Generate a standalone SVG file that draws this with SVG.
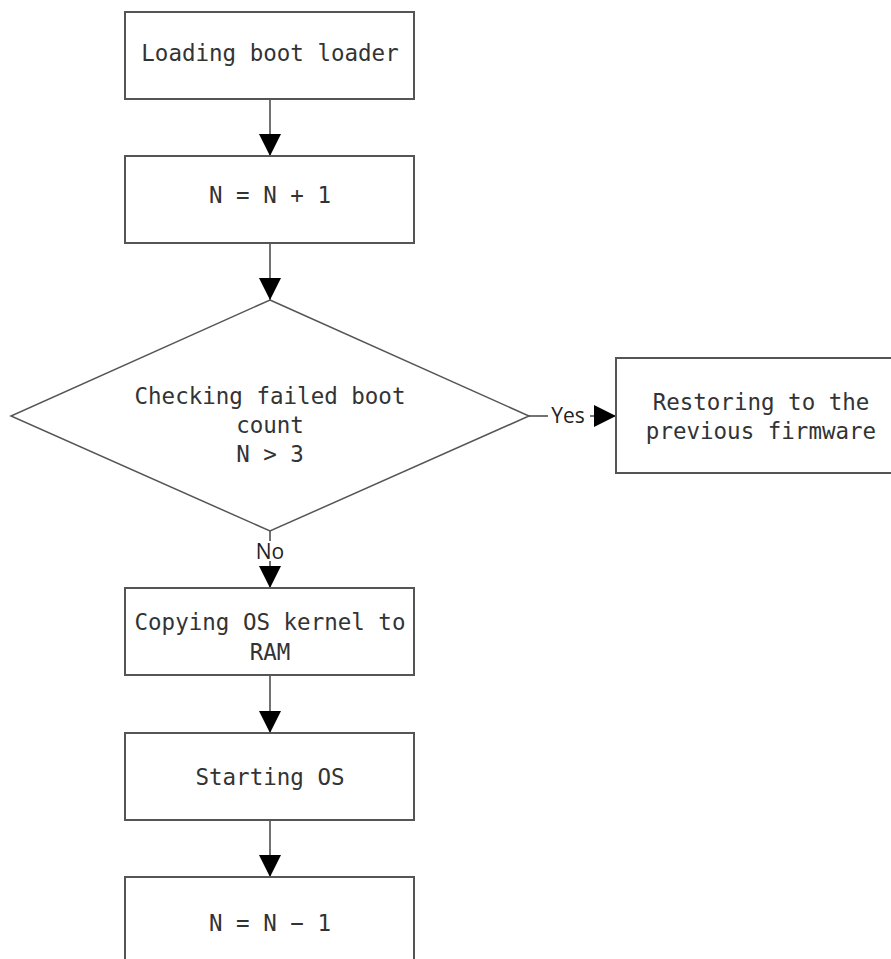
<svg xmlns="http://www.w3.org/2000/svg" width="891" height="959" viewBox="0 0 891 959">
<defs>
<marker id="arr" markerWidth="22" markerHeight="22" refX="22" refY="11" orient="auto" markerUnits="userSpaceOnUse">
<path d="M0,0 L22,11 L0,22 Z" fill="#000"/>
</marker>
</defs>
<style>
.box{fill:#fff;stroke:#555;stroke-width:2}
.t{font-family:"DejaVu Sans Mono","Liberation Mono",monospace;font-size:22.5px;fill:#333;text-anchor:middle}
.c{fill:none;stroke:#444;stroke-width:1.5}
.lbl{font-family:"Open Sans","Liberation Sans",sans-serif;font-size:21px;fill:#222;text-anchor:middle}
</style>
<rect width="891" height="959" fill="#fff"/>
<g id="connectors">
<line class="c" x1="270" y1="99" x2="270" y2="156" marker-end="url(#arr)"/>
<line class="c" x1="270" y1="243" x2="270" y2="300" marker-end="url(#arr)"/>
<line class="c" x1="270" y1="531" x2="270" y2="588" marker-end="url(#arr)"/>
<line class="c" x1="529" y1="416" x2="616" y2="416" marker-end="url(#arr)"/>
<line class="c" x1="270" y1="675" x2="270" y2="733" marker-end="url(#arr)"/>
<line class="c" x1="270" y1="820" x2="270" y2="877" marker-end="url(#arr)"/>
<rect x="257" y="541" width="26" height="20" fill="#fff"/>
<text class="lbl" x="270" y="559">No</text>
<rect x="548" y="405" width="42" height="22" fill="#fff"/>
<text class="lbl" x="568" y="423">Yes</text>
</g>
<g id="n1">
<rect class="box" x="125" y="12" width="289" height="87"/>
<text class="t" x="270" y="61">Loading boot loader</text>
</g>
<g id="n2">
<rect class="box" x="125" y="156" width="289" height="87"/>
<text class="t" x="270" y="203">N = N + 1</text>
</g>
<g id="n3">
<polygon class="box" points="270,300 529,416 270,531 11,416" style="stroke-width:1.5"/>
<text class="t" x="270" y="404">Checking failed boot</text>
<text class="t" x="270" y="433">count</text>
<text class="t" x="270" y="462">N &gt; 3</text>
</g>
<g id="n4">
<rect class="box" x="616" y="358" width="290" height="115"/>
<text class="t" x="761" y="410">Restoring to the</text>
<text class="t" x="761" y="439">previous firmware</text>
</g>
<g id="n5">
<rect class="box" x="125" y="588" width="289" height="87"/>
<text class="t" x="270" y="630">Copying OS kernel to</text>
<text class="t" x="270" y="660">RAM</text>
</g>
<g id="n6">
<rect class="box" x="125" y="733" width="289" height="87"/>
<text class="t" x="270" y="785">Starting OS</text>
</g>
<g id="n7">
<rect class="box" x="125" y="877" width="289" height="87"/>
<text class="t" x="270" y="931">N = N − 1</text>
</g>
</svg>
